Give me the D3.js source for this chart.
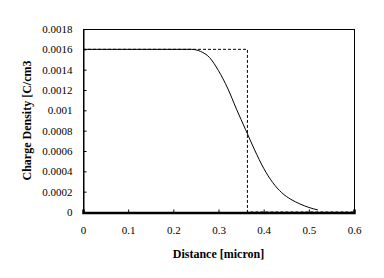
<!DOCTYPE html>
<html>
<head>
<meta charset="utf-8">
<script src="https://cdn.jsdelivr.net/npm/d3@7"></script>
<style>
body { margin: 0; background: #fff; }
text { font-family: "Liberation Serif", "Times New Roman", serif; }
</style>
</head>
<body>
<svg id="chart" width="384" height="278"></svg>
<script>
// simulated profile (solid)
var distX = [0, 0.24, 0.26, 0.28, 0.30, 0.32, 0.34, 0.36, 0.38, 0.40, 0.42, 0.44, 0.46, 0.48, 0.50, 0.52];
var density = [0.0016, 0.0016, 0.00158, 0.00152, 0.00139, 0.00122, 0.00101, 0.00081, 0.00061, 0.00043, 0.00029, 0.00019, 0.000125, 0.00008, 0.000045, 0.00002];
// abrupt approximation (dashed)
var stepX = [0, 0.364, 0.364, 0.6];
var stepY = [0.0016, 0.0016, 0, 0];

var xTicks = [0, 0.1, 0.2, 0.3, 0.4, 0.5, 0.6];
var yTicks = [0, 0.0002, 0.0004, 0.0006, 0.0008, 0.001, 0.0012, 0.0014, 0.0016, 0.0018];

var m = {left: 83, top: 29, right: 354, bottom: 212};
var svg = d3.select("#chart");

var x = d3.scaleLinear().domain([0, 0.6]).range([m.left, m.right]);
var y = d3.scaleLinear().domain([0, 0.0018]).range([m.bottom, m.top]);

// frame
svg.append("rect")
	.attr("x", m.left + 0.5).attr("y", m.top + 0.5)
	.attr("width", m.right - m.left).attr("height", m.bottom - m.top)
	.attr("fill", "none").attr("stroke", "#000").attr("stroke-width", 1);

var line = d3.line().x(function(d) { return x(d[0]); }).y(function(d) { return y(d[1]); });

svg.append("path")
	.datum(d3.zip(stepX, stepY))
	.attr("d", line)
	.attr("fill", "none").attr("stroke", "#000").attr("stroke-width", 1)
	.attr("stroke-dasharray", "3,2");

svg.append("path")
	.datum(d3.zip(distX, density))
	.attr("d", line.curve(d3.curveMonotoneX))
	.attr("fill", "none").attr("stroke", "#000").attr("stroke-width", 1);

var xAxis = svg.append("g")
	.attr("transform", "translate(0," + (m.bottom + 0.5) + ")")
	.call(d3.axisBottom(x).tickValues(xTicks).tickSize(-3).tickPadding(14)
		.tickFormat(function(d) { return d === 0 ? "0" : d3.format(".1f")(d); }));
xAxis.select(".domain").attr("stroke-width", 2.5);

var yAxis = svg.append("g")
	.attr("transform", "translate(" + (m.left + 0.5) + ",0)")
	.call(d3.axisLeft(y).tickValues(yTicks).tickSize(-3).tickPadding(11)
		.tickFormat(function(d) { return d === 0 ? "0" : String(+d.toFixed(4)); }));

svg.selectAll(".tick text").attr("font-size", 11).attr("font-family", "Liberation Serif, serif").attr("fill", "#000");
svg.selectAll(".domain, .tick line").attr("stroke", "#000");

svg.append("text")
	.attr("x", (m.left + m.right) / 2).attr("y", 258)
	.attr("text-anchor", "middle").attr("font-size", 12).attr("font-weight", "bold")
	.text("Distance [micron]");

svg.append("text")
	.attr("transform", "translate(31," + ((m.top + m.bottom) / 2) + ") rotate(-90)")
	.attr("text-anchor", "middle").attr("font-size", 12).attr("font-weight", "bold")
	.text("Charge Density [C/cm3");
</script>
</body>
</html>
